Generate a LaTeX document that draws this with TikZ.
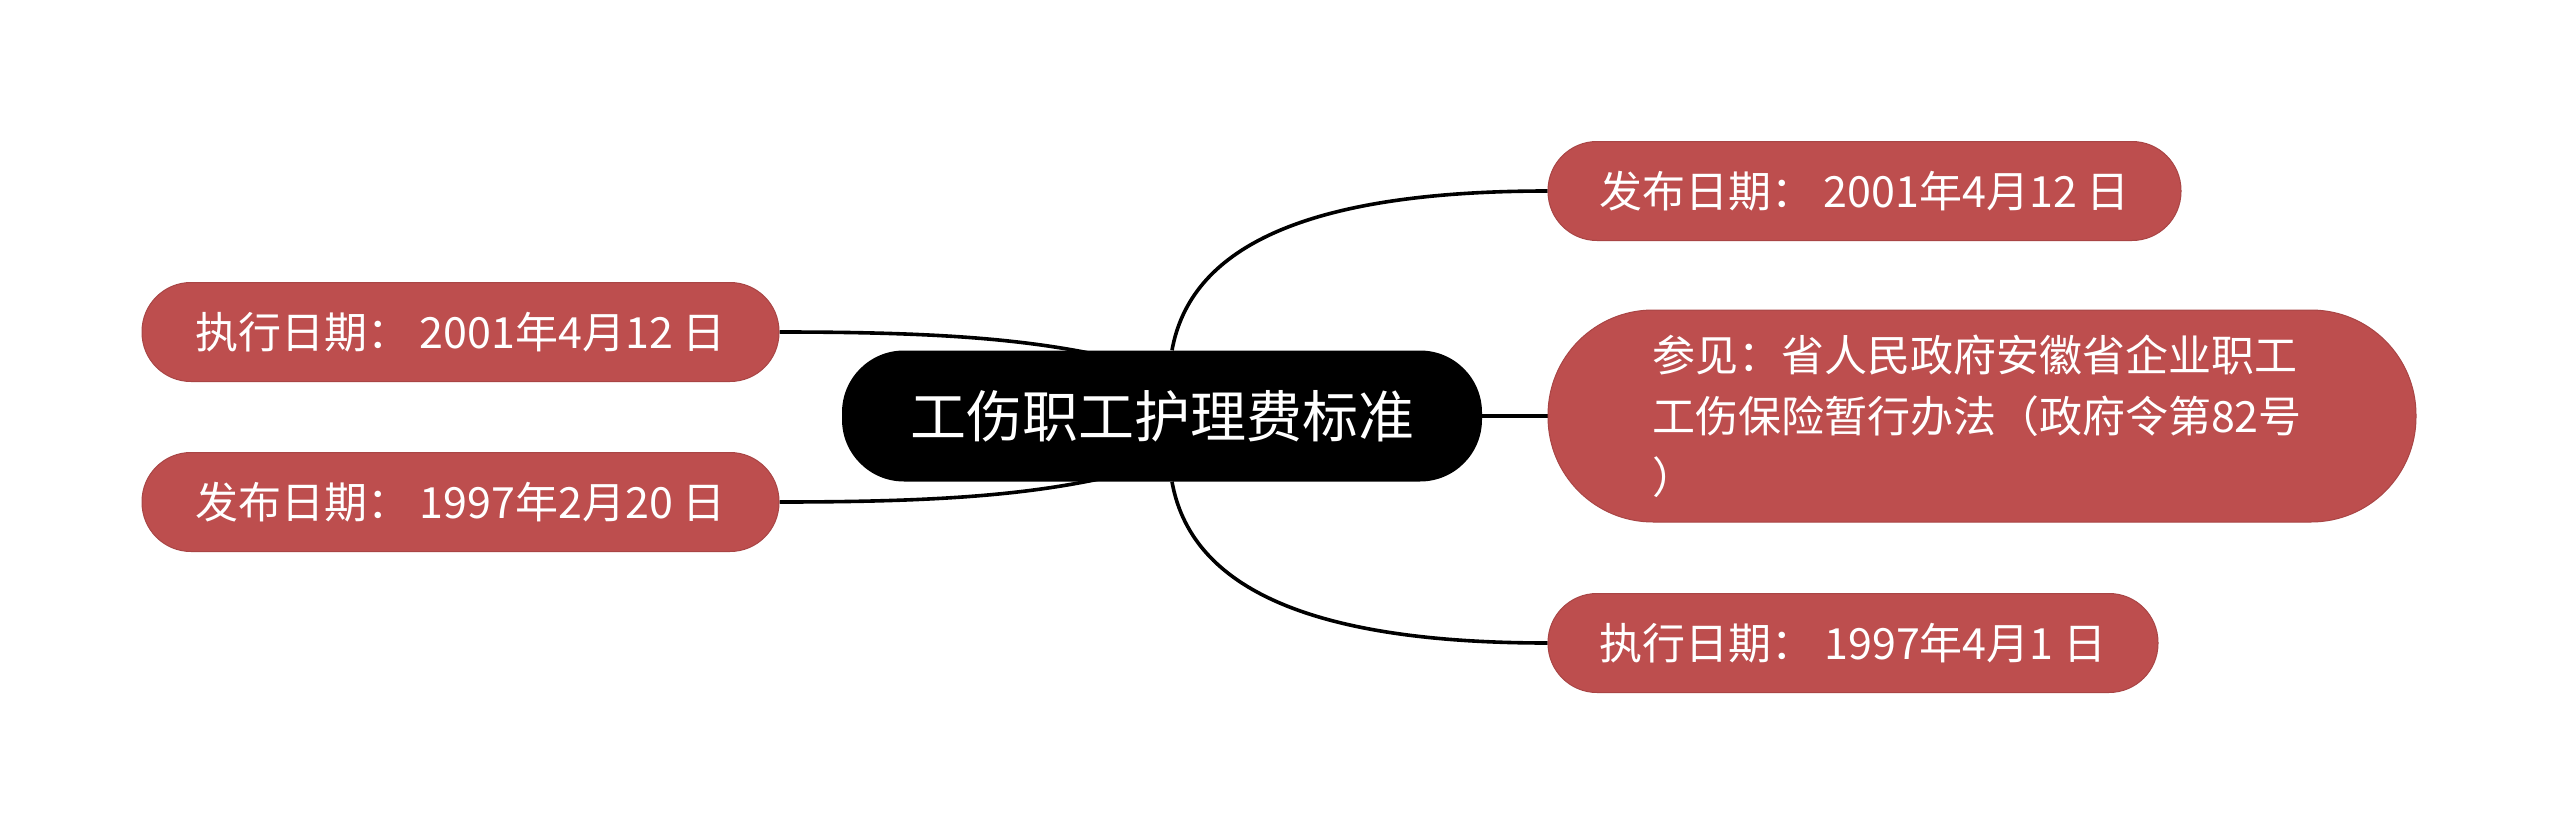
\documentclass[tikz,border=0pt]{standalone}
\usepackage{fontspec}
\setmainfont{Noto Sans CJK SC}
\usetikzlibrary{calc,backgrounds}
\definecolor{branchred}{HTML}{BD4E4E}
\definecolor{branchline}{HTML}{A94545}
\begin{document}
\begin{tikzpicture}[x=1pt,y=-1pt,
  rootbox/.style={fill=black,text=white,rounded corners=62pt,minimum width=640pt,minimum height=131pt,inner sep=0pt,font=\fontsize{56}{60}\selectfont},
  leafbox/.style={fill=branchred,draw=branchline,line width=1pt,text=white,rounded corners=49pt,minimum height=99pt,inner sep=0pt,font=\fontsize{43}{52}\selectfont},
  link/.style={line width=3.6pt,black}]
\useasboundingbox (0,0) rectangle (2560,835);

\node[rootbox] (c) at (1162,416) {工伤职工护理费标准};

\node[leafbox,minimum width=633pt] (tr) at (1864.5,191) {发布日期： 2001年4月12 日};
\node[leafbox,minimum width=868pt,minimum height=212pt,rounded corners=105pt,text width=660pt,align=left,font=\fontsize{43}{61}\selectfont] (mr) at (1982,416)
  {参见：省人民政府安徽省企业职工\\工伤保险暂行办法（政府令第82号\\）};
\node[leafbox,minimum width=610pt] (br) at (1853,643) {执行日期： 1997年4月1 日};
\node[leafbox,minimum width=637pt] (lt) at (460.5,332) {执行日期： 2001年4月12 日};
\node[leafbox,minimum width=637pt] (lb) at (460.5,502) {发布日期： 1997年2月20 日};

\begin{pgfonlayer}{background}
\fill[white] (0,0) rectangle (2560,835);
\draw[link] ($(c.north)+(10,0)$) .. controls (1190,250) and (1300,191) .. (tr.west);
\draw[link] (c.east) -- (mr.west);
\draw[link] ($(c.south)+(10,0)$) .. controls (1190,583) and (1300,643) .. (br.west);
\draw[link] (lt.east) .. controls (950,332) and (1040,340) .. ($(c.center)+(-32,-54)$);
\draw[link] (lb.east) .. controls (950,502) and (1040,494) .. ($(c.center)+(-32,56)$);
\end{pgfonlayer}
\end{tikzpicture}
\end{document}
